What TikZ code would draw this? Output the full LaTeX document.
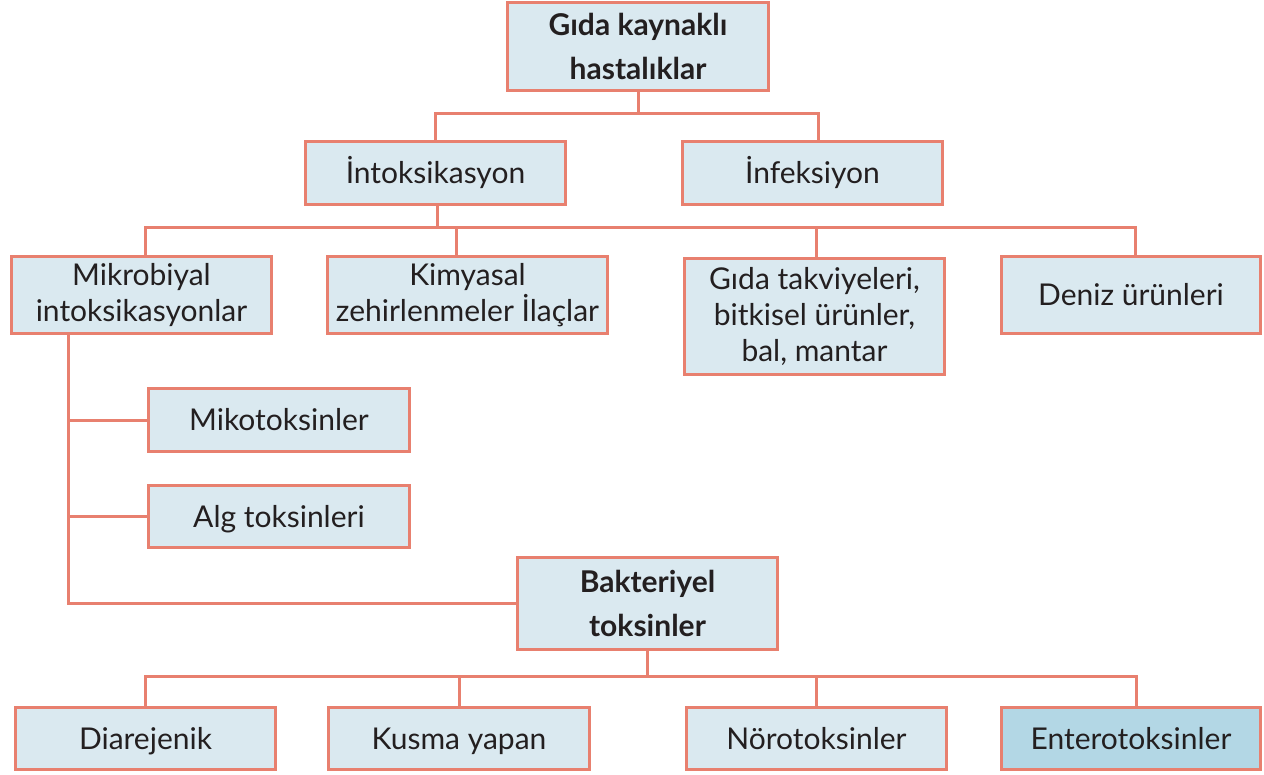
\documentclass[tikz,border=0pt]{standalone}
\usepackage{fontspec}
\setmainfont{Lato}
\usepackage{xcolor}
\definecolor{GKLine}{HTML}{E8806F}
\definecolor{GKFill}{HTML}{DAE9F0}
\definecolor{GKDark}{HTML}{B3D7E5}
\definecolor{GKText}{HTML}{231F20}
\tikzset{
  box/.style={draw=GKLine, fill=GKFill, line width=3pt, inner sep=0pt,
    align=center, text=GKText, font=\fontsize{30}{36}\selectfont},
  oneline/.style={box, text height=21.5pt, text depth=0pt},
  headbox/.style={box, font=\fontsize{30}{44}\selectfont\bfseries},
  size/.style 2 args={minimum width=#1pt, minimum height=#2pt},
  link/.style={draw=GKLine, line width=3pt},
}

\begin{document}
\begin{tikzpicture}[x=1pt,y=-1pt]
\path[use as bounding box] (0,0) rectangle (1264,774);
\coordinate (bus1) at (0,113);
\coordinate (bus2) at (0,227);
\coordinate (bus3) at (0,676);
\coordinate (trunk) at (68,0);
\node[headbox, size={261}{88}] (gida) at (638,46.5) {Gıda kaynaklı\\hastalıklar};
\node[oneline, size={260}{63}] (intox) at (435.5,173) {İntoksikasyon};
\node[oneline, size={260}{63}] (infek) at (812.5,173) {İnfeksiyon};
\node[box, size={260}{77}] (mikro) at (141.5,295) {Mikrobiyal\\intoksikasyonlar};
\node[box, size={280}{77}] (kimya) at (467.5,295) {Kimyasal\\zehirlenmeler İlaçlar};
\node[box, size={260}{116}] (takviye) at (814.5,316) {Gıda takviyeleri,\\bitkisel ürünler,\\bal, mantar};
\node[oneline, size={259}{77}] (deniz) at (1131,295) {Deniz ürünleri};
\node[oneline, size={261}{63}] (miko) at (279,420) {Mikotoksinler};
\node[oneline, size={261}{62}] (alg) at (279,516.5) {Alg toksinleri};
\node[headbox, size={260}{92}] (bakteri) at (647.5,603.5) {Bakteriyel\\toksinler};
\node[oneline, size={260}{62}] (diare) at (145.5,738.5) {Diarejenik};
\node[oneline, size={261}{62}] (kusma) at (459,738.5) {Kusma yapan};
\node[oneline, size={260}{62}] (noro) at (816.5,738.5) {Nörotoksinler};
\node[oneline, size={259}{62}, fill=GKDark] (entero) at (1131,738.5) {Enterotoksinler};
% first split
\draw[link] (gida.south) -- (gida.south |- bus1);
\draw[link] (intox.north) -- (intox.north |- bus1) -- ([xshift=5.5pt]infek.north |- bus1) -- ([xshift=5.5pt]infek.north);
% intoksikasyon groups
\draw[link] ([xshift=1.5pt]intox.south) -- ([xshift=1.5pt]intox.south |- bus2);
\draw[link] ([xshift=3.5pt]mikro.north) -- ([xshift=3.5pt]mikro.north |- bus2) -- ([xshift=4.5pt]deniz.north |- bus2) -- ([xshift=4.5pt]deniz.north);
\draw[link] ([xshift=-11.5pt]kimya.north) -- ([xshift=-11.5pt]kimya.north |- bus2);
\draw[link] ([xshift=1.5pt]takviye.north) -- ([xshift=1.5pt]takviye.north |- bus2);
% mikrobiyal trunk
\draw[link] (mikro.south -| trunk) -- (bakteri.west -| trunk) -- (bakteri.west);
\draw[link] (miko.west) -- (miko.west -| trunk);
\draw[link] (alg.west) -- (alg.west -| trunk);
% bakteriyel toksinler
\draw[link] (bakteri.south) -- (bakteri.south |- bus3);
\draw[link] (diare.north) -- (diare.north |- bus3) -- ([xshift=5pt]entero.north |- bus3) -- ([xshift=5pt]entero.north);
\draw[link] (kusma.north) -- (kusma.north |- bus3);
\draw[link] (noro.north) -- (noro.north |- bus3);
\end{tikzpicture}
\end{document}
